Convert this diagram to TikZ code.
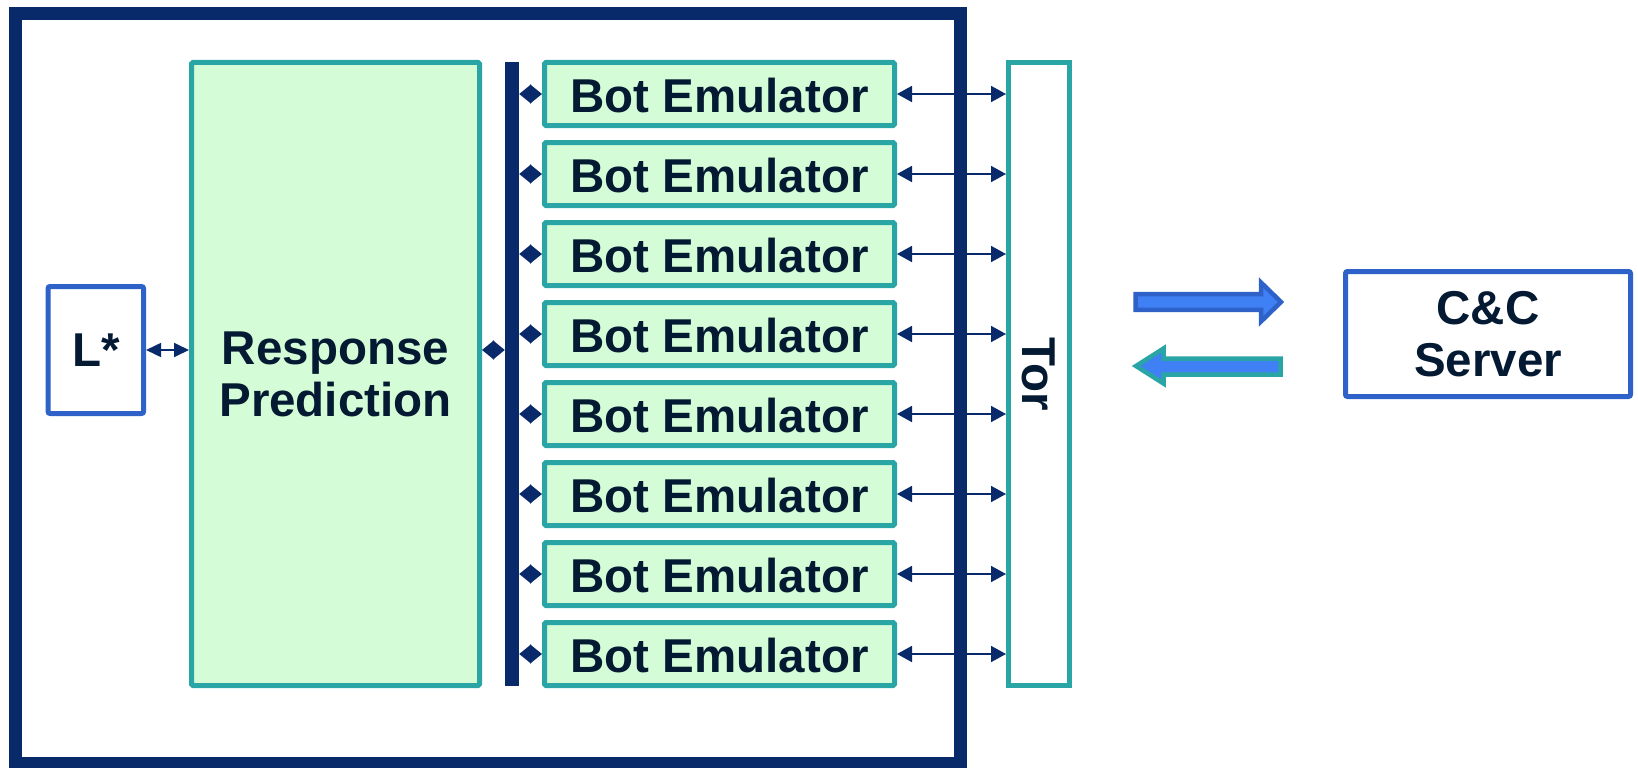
\documentclass[tikz,border=0pt]{standalone}
\usepackage{fontspec}
\usepackage{graphicx}
\setmainfont{Liberation Sans}
\usetikzlibrary{arrows.meta}

\definecolor{navy}{RGB}{8,42,106}
\definecolor{tealline}{RGB}{42,165,165}
\definecolor{mint}{RGB}{212,252,214}
\definecolor{boxblue}{RGB}{46,98,200}
\definecolor{brightblue}{RGB}{64,128,245}
\definecolor{inkc}{RGB}{4,26,50}

\begin{document}
\begin{tikzpicture}[x=1pt,y=-1pt,
  lbl/.style={font=\bfseries\fontsize{47.5}{52}\selectfont, text=inkc, align=center, inner sep=0pt},
  greenbox/.style={lbl, draw=tealline, line width=5pt, fill=mint, rounded corners=1.5pt},
  bluebox/.style={lbl, draw=boxblue, line width=5pt, fill=white, rounded corners=2pt},
  frame/.style={draw=navy, line width=13pt},
  link/.style={navy, line width=1.8pt, {Triangle[length=15pt,width=16pt]}-{Triangle[length=15pt,width=16pt]}},
  buslink/.style={navy, line width=2pt, {Triangle[length=12pt,width=19pt]}-{Triangle[length=12pt,width=19pt]}},
]
\useasboundingbox (0,0) rectangle (1638,768);

% system boundary
\draw[frame] (15.7,14) rectangle (960,763.5);

% learner and prediction
\node[bluebox, minimum width=95.5pt, minimum height=127pt] (lstar) at (95.8,350) {L*};
\node[greenbox, minimum width=288pt, minimum height=623pt] (rp) at (335.5,374) {Response\\Prediction};

% shared bus
\node[fill=navy, inner sep=0pt, minimum width=14pt, minimum height=624pt] (bus) at (512,374) {};

% Tor relay
\node[lbl, draw=tealline, line width=5pt, fill=white, minimum width=61pt, minimum height=623pt] (tor) at (1039,374) {\rotatebox{-90}{Tor}};

% emulators
\foreach \i in {0,...,7} {
  \node[greenbox, text height=37pt, minimum width=350pt, minimum height=63pt] (bot\i) at (719.5,{94+80*\i}) {Bot Emulator};
  \draw[buslink] (bus.east |- bot\i.west) -- (bot\i.west);
  \draw[link] (bot\i.east) -- (tor.west |- bot\i.east);
}

\draw[navy, line width=1.8pt, {Triangle[length=15pt,width=14pt]}-{Triangle[length=15pt,width=14pt]}] (lstar.east) -- (rp.west |- lstar.east);
\draw[buslink] (rp.east |- lstar.east) -- (bus.west |- lstar.east);

% command and control server
\node[bluebox, minimum width=285pt, minimum height=125pt] (cc) at (1488,334) {C\&C\\Server};

% traffic arrows
\draw[draw=boxblue, fill=brightblue, line width=4.5pt, line join=miter]
  (1135.5,294.2) -- (1261,294.2) -- (1261,282.5) -- (1281,302) -- (1261,321.5) -- (1261,309.8) -- (1135.5,309.8) -- cycle;
\draw[draw=tealline, fill=brightblue, line width=4.5pt, line join=miter]
  (1136,366) -- (1163.5,348.5) -- (1163.5,358.5) -- (1280.5,358.5) -- (1280.5,374.5) -- (1163.5,374.5) -- (1163.5,383.5) -- cycle;
\end{tikzpicture}
\end{document}
